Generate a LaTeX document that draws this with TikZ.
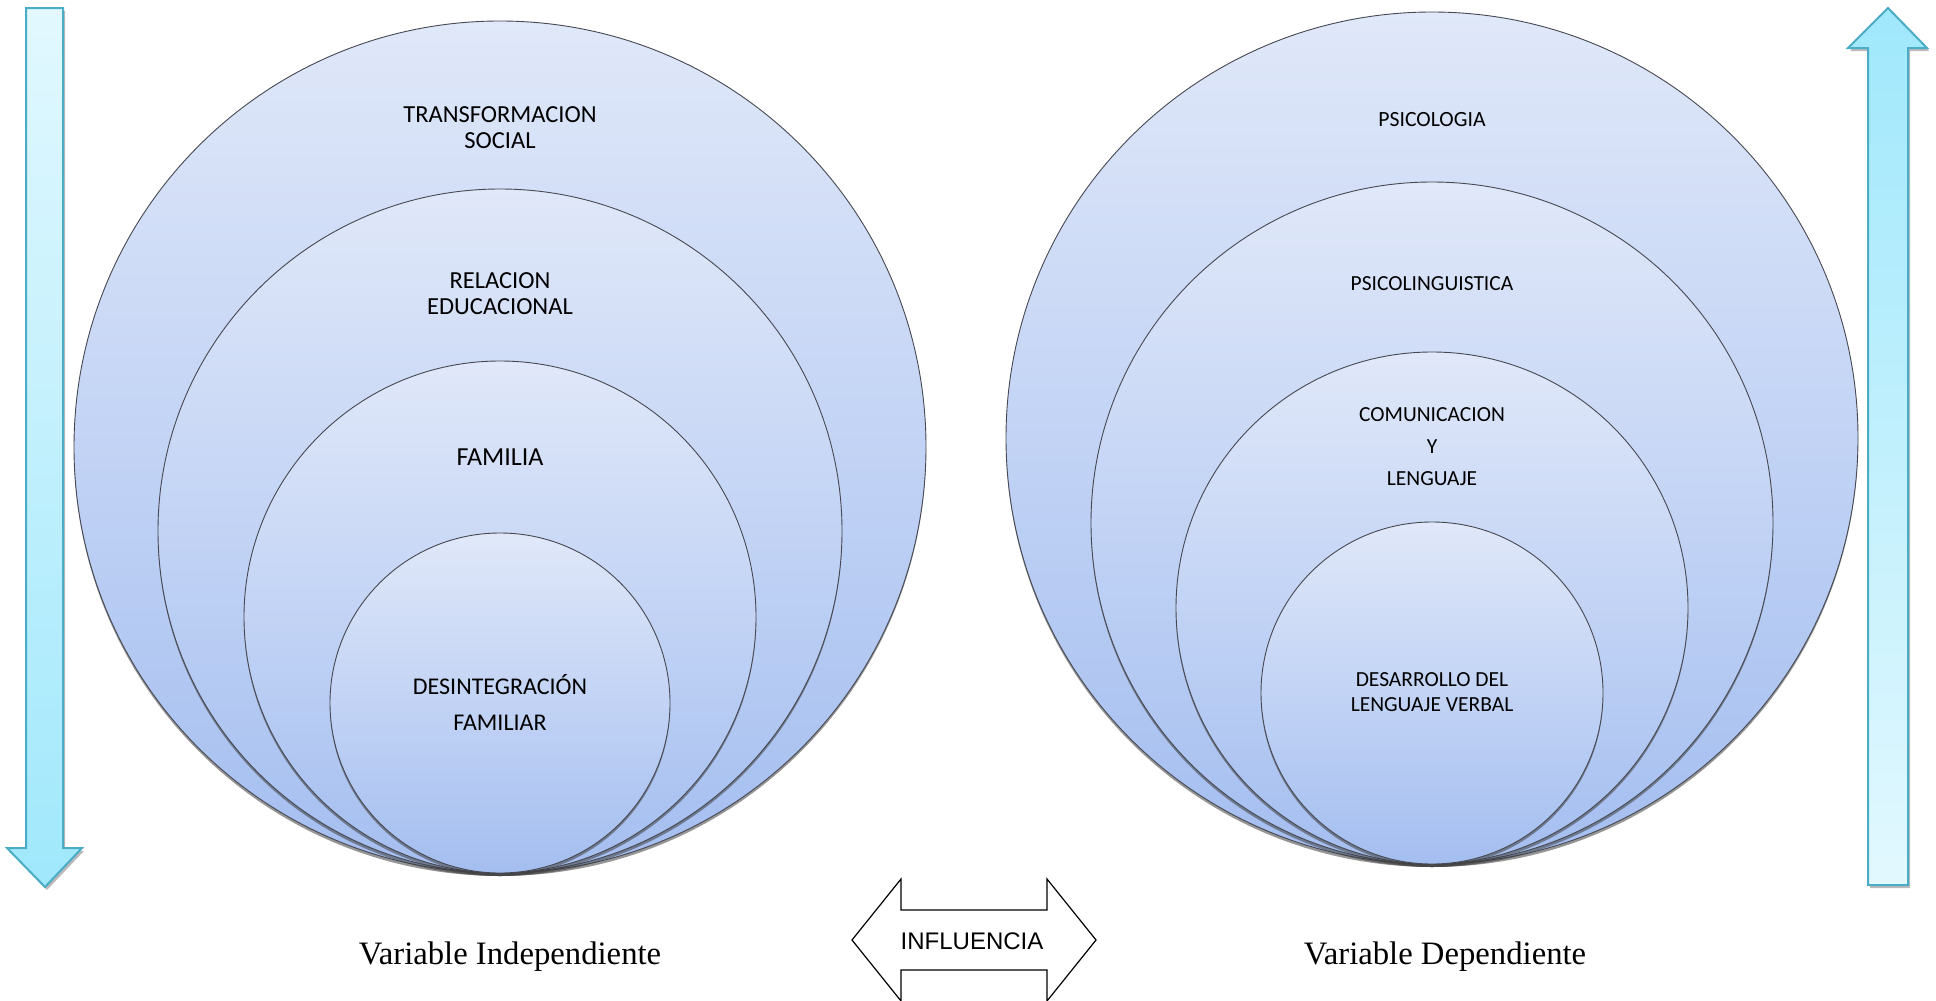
\documentclass[tikz,border=0pt]{standalone}
\usepackage{fontspec}
\setmainfont{Liberation Serif}
\newfontfamily\calfont{Carlito}
\newfontfamily\arialfont{Liberation Sans}
\usetikzlibrary{shadows}

\definecolor{ringtop}{RGB}{224,232,249}
\definecolor{ringbot}{RGB}{164,190,240}
\definecolor{ringline}{RGB}{70,72,82}
\definecolor{arrowlight}{RGB}{226,248,254}
\definecolor{arrowdark}{RGB}{160,232,252}
\definecolor{arrowline}{RGB}{75,172,198}

\tikzset{
	ring/.style={circle, draw=ringline, line width=0.9pt, top color=ringtop, bottom color=ringbot, inner sep=0pt,
		drop shadow={shadow xshift=0pt, shadow yshift=-3pt, opacity=0.55, fill=black!75}},
	ringtext/.style={align=center, text=black, inner sep=0pt, font=\calfont\fontsize{24.5}{26}\selectfont},
	sidearrow/.style={draw=arrowline, line width=2pt,
		drop shadow={shadow xshift=2pt, shadow yshift=-3pt, opacity=0.45, fill=black!60}},
}

\begin{document}
\begin{tikzpicture}[x=1pt,y=1pt,yscale=-1,xscale=1]
	\useasboundingbox (0,0) rectangle (1936,1001);

	% Down Arrow
	\draw [sidearrow, top color=arrowlight, bottom color=arrowdark] (26,8) -- (63,8) -- (63,848) -- (82,848) -- (45,887) -- (7,848) -- (26,848) -- cycle;
	% Up Arrow
	\draw [sidearrow, top color=arrowdark, bottom color=arrowlight] (1888,8) -- (1927,48) -- (1908,48) -- (1908,885) -- (1868,885) -- (1868,48) -- (1848,48) -- cycle;

	% Circle
	\node [ring, minimum size=852] (social) at (500,447) {};
	\node [ring, minimum size=684] (educ) at (500,531) {};
	\node [ring, minimum size=512] (familia) at (500,617) {};
	\node [ring, minimum size=340] (desint) at (500,703) {};
	% Circle
	\node [ring, minimum size=852] (psico) at (1432,438) {};
	\node [ring, minimum size=682] (psicoling) at (1432,523) {};
	\node [ring, minimum size=512] (comunic) at (1432,608) {};
	\node [ring, minimum size=342] (desarr) at (1432,693) {};

	% Text Node
	\node [ringtext] (tsocial) at (500,128) {TRANSFORMACION\\SOCIAL};
	\node [ringtext] (teduc) at (500,294) {RELACION\\EDUCACIONAL};
	\node [ringtext, font=\calfont\fontsize{26}{30}\selectfont] (tfamilia) at (500,457) {FAMILIA};
	\node [ringtext, font=\calfont\fontsize{24}{36}\selectfont] (tdesint) at (500,702) {DESINTEGRACIÓN\\FAMILIAR};
	% Text Node
	\node [ringtext, font=\calfont\fontsize{21.7}{24}\selectfont] (tpsico) at (1432,120) {PSICOLOGIA};
	\node [ringtext, font=\calfont\fontsize{21.5}{24}\selectfont] (tpsicoling) at (1432,284) {PSICOLINGUISTICA};
	\node [ringtext, font=\calfont\fontsize{21.5}{32}\selectfont] (tcomunic) at (1432,447) {COMUNICACION\\Y\\LENGUAJE};
	\node [ringtext, font=\calfont\fontsize{21.5}{25}\selectfont] (tdesarr) at (1432,692) {DESARROLLO DEL\\LENGUAJE VERBAL};

	% Influence Arrow
	\draw [line width=1.2pt, fill=white] (852,940) -- (901,879) -- (901,910) -- (1047,910) -- (1047,879) -- (1096,940) -- (1047,1001) -- (1047,970) -- (901,970) -- (901,1001) -- cycle;
	\node [font=\arialfont\fontsize{24}{28}\selectfont] (influencia) at (972,941) {INFLUENCIA};

	% Text Node
	\node [font=\fontsize{32.7}{36}\selectfont] (indep) at (510,957) {Variable Independiente};
	\node [font=\fontsize{32.7}{36}\selectfont] (dep) at (1445,957) {Variable Dependiente};

\end{tikzpicture}
\end{document}
